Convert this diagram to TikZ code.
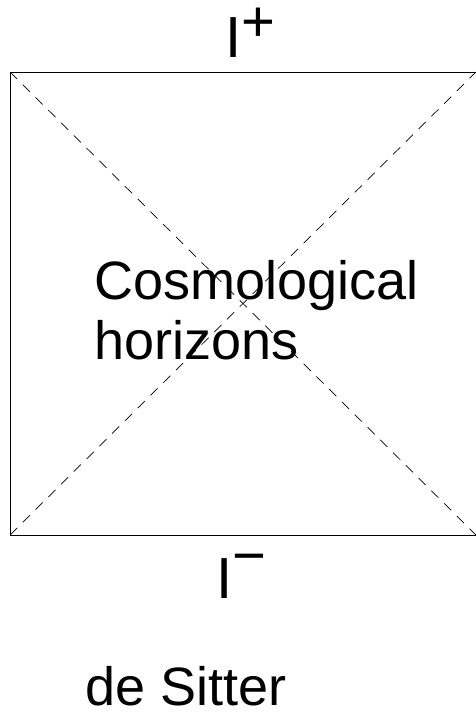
\documentclass[tikz,border=0pt]{standalone}
\usepackage{fontspec}
\setmainfont{Liberation Sans}
\usetikzlibrary{positioning}
\begin{document}
\begin{tikzpicture}[x=1pt, y=-1pt,
    labeltext/.style={inner sep=0pt, font=\fontsize{54}{60}\selectfont},
    scritext/.style={inner sep=0pt, font=\fontsize{58}{64}\selectfont},
    horizon/.style={dash pattern=on 10pt off 8pt, line width=0.7pt}]
    % 画布范围
    \useasboundingbox (0,0) rectangle (475,716);

    % 正方形的四个角
    \coordinate (sw) at (10,535);
    \coordinate (se) at (476,535);
    \coordinate (ne) at (476,72);
    \coordinate (nw) at (10,72);
    \draw[line width=1pt] (sw) -- (se) -- (ne) -- (nw) -- cycle;

    % 宇宙学视界 (虚线对角线)
    \draw[horizon] (sw) -- (ne);
    \draw[horizon] (nw) -- (se);

    % 未来与过去的类光无穷远
    \node[scritext, anchor=base west] (scriplus) at (225,57) {I\smash{\raisebox{16pt}{+}}};
    \node[scritext, anchor=base west] (scriminus) at (216,598) {I\smash{\raisebox{23pt}{−}}};

    % 文字说明
    \node[labeltext, anchor=base west] (cosmo) at (94.5,299) {Cosmological};
    \node[labeltext, anchor=base west] (horiz) at ([yshift=-60pt]cosmo.base west) {horizons};
    \node[labeltext, anchor=base west] (desitter) at (85,705) {de Sitter};
\end{tikzpicture}
\end{document}
